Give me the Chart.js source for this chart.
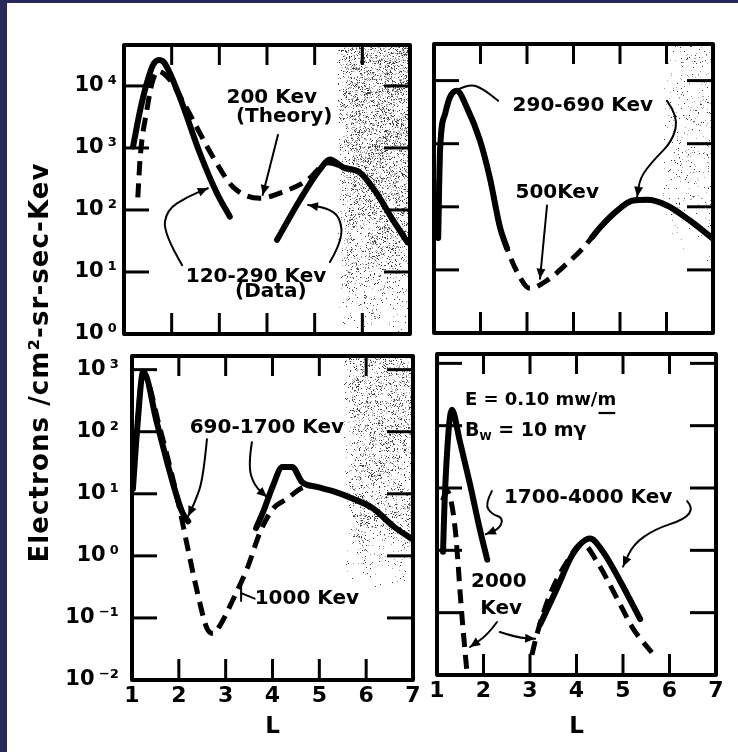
<!DOCTYPE html>
<html>
<head>
<meta charset="utf-8">
<title>Electron flux versus L</title>
<script src="https://cdn.jsdelivr.net/npm/chart.js@4.4.1/dist/chart.umd.min.js"></script>
<style>
  html, body { margin:0; padding:0; background:#fff; }
  #wrap { position:relative; width:738px; height:752px; background:#fff; overflow:hidden; }
  .band { position:absolute; background:#29295b; }
  canvas { position:absolute; left:0; top:0; }
</style>
</head>
<body>
<div id="wrap">
  <canvas id="pA" width="738" height="752"></canvas>
  <canvas id="pB" width="738" height="752"></canvas>
  <canvas id="pC" width="738" height="752"></canvas>
  <canvas id="pD" width="738" height="752"></canvas>
  <div class="band" style="left:0;top:0;width:7px;height:752px"></div>
  <div class="band" style="left:0;top:0;width:738px;height:3px"></div>
</div>
<script>
// ---------------- data ----------------
const xTicks = [1, 2, 3, 4, 5, 6, 7];
const xTickLabels = ['1', '2', '3', '4', '5', '6', '7'];
const yTicksTop = [1, 10, 100, 1000, 10000];
const yTickLabelsTop = ['10\u2009⁰', '10\u2009¹', '10\u2009²', '10\u2009³', '10\u2009⁴'];
const yTicksBottom = [0.01, 0.1, 1, 10, 100, 1000];
const yTickLabelsBottom = ['10\u2009⁻²', '10\u2009⁻¹', '10\u2009⁰', '10\u2009¹', '10\u2009²', '10\u2009³'];
const yTitle = 'Electrons /cm²-sr-sec-Kev';
const xTitle = 'L';

// Panel A: 120-290 Kev (data, solid) and 200 Kev (theory, dashed)
const aDataL    = [1.19, 1.34, 1.48, 1.61, 1.73, 1.84, 2.17, 2.59, 2.95, 3.22, 3.70, 4.21, 4.69, 5.11, 5.32, 5.59, 5.95, 6.30, 6.64, 6.95];
const aDataFlux = [1050, 4100, 11200, 21900, 26300, 24000, 6600, 830, 186, 78, null, 33, 145, 450, 650, 490, 400, 186, 69, 30];
const aTheoryL    = [1.29, 1.34, 1.48, 1.59, 1.71, 1.96, 2.22, 2.87, 3.29, 3.85, 4.33, 4.84, 5.28, 5.60];
const aTheoryFlux = [160, 710, 4100, 11200, 17400, 12600, 5900, 710, 234, 155, 195, 300, 575, 490];

// Panel B: 290-690 Kev (data) and 500 Kev (theory)
const bDataL    = [1.09, 1.13, 1.24, 1.34, 1.49, 1.71, 1.99, 2.20, 2.42, 2.57, 3.50, 4.40, 4.57, 4.94, 5.28, 5.58, 6.01, 6.51, 6.98];
const bDataFlux = [32, 780, 3000, 5400, 6900, 3700, 1120, 290, 47, 22, null, 33, 47, 87, 126, 129, 105, 60, 32];
const bTheoryL    = [1.09, 1.13, 1.24, 1.34, 1.49, 1.71, 1.99, 2.20, 2.42, 2.57, 2.78, 3.06, 3.43, 3.86, 4.20, 4.40, 4.57, 4.94, 5.28, 5.58, 6.01, 6.51, 6.98];
const bTheoryFlux = [32, 780, 3000, 5400, 6900, 3700, 1120, 290, 47, 22, 9.5, 5.1, 6.8, 12.6, 22, 33, 47, 87, 126, 129, 105, 60, 32];

// Panel C: 690-1700 Kev (data) and 1000 Kev (theory)
const cDataL    = [1.02, 1.11, 1.24, 1.53, 1.81, 2.07, 2.20, 3.00, 3.65, 3.80, 4.01, 4.21, 4.42, 4.63, 4.95, 5.29, 5.72, 6.15, 6.58, 6.96];
const cDataFlux = [12, 110, 930, 141, 22, 5.1, 3.6, null, 2.8, 5.1, 13.5, 27, 27, 15.5, 12.9, 11, 8.3, 5.8, 3.0, 1.9];
const cTheoryL    = [1.04, 1.24, 1.60, 1.96, 2.18, 2.39, 2.60, 2.73, 2.88, 3.16, 3.46, 3.74, 4.01, 4.31, 4.59, 4.80];
const cTheoryFlux = [25, 830, 110, 9.1, 1.45, 0.27, 0.068, 0.056, 0.076, 0.2, 0.63, 2.45, 5.75, 8.3, 12, 14];

// Panel D: 1700-4000 Kev (data) and 2000 Kev (theory)
const dDataL    = [1.13, 1.17, 1.32, 1.49, 1.71, 1.92, 2.08, 2.60, 3.22, 3.58, 3.92, 4.29, 4.57, 4.94, 5.37];
const dDataFlux = [0.95, 8, 180, 57, 11.5, 2.2, 0.71, null, 0.065, 0.245, 0.87, 1.55, 0.95, 0.32, 0.079];
const dTheoryL    = [1.12, 1.22, 1.30, 1.39, 1.45, 1.50, 1.57, 1.65, 2.30, 3.04, 3.15, 3.43, 3.80, 4.12, 4.44, 4.87, 5.22, 5.62];
const dTheoryFlux = [6.3, 8.9, 6.3, 2.24, 0.66, 0.195, 0.045, 0.01, null, 0.021, 0.045, 0.195, 0.66, 1.29, 0.66, 0.17, 0.055, 0.023];

// ---------------- styling / layout ----------------
const FONT = '"DejaVu Sans", "Liberation Sans", sans-serif';
const W = 738, H = 752;

const panels = {
  pA: {
    box: {l:124, t:45, r:410, b:334}, yMin: 1, yMax: Math.pow(10, 4.66),
    yTicks: yTicksTop, yLabels: yTickLabelsTop, showX: false, showY: true, yPad: 7,
    data: [aDataL, aDataFlux], theory: [aTheoryL, aTheoryFlux],
    speckle: {L0:5.45, L1:7.05, lgTop:4.7, lgBot:-0.05, density:0.30, fade:0.25, seed:11},
    texts: [
      {t:'200 Kev', L:4.10, lg:3.81},
      {t:'(Theory)', L:4.36, lg:3.50},
      {t:'120-290 Kev', L:3.77, lg:0.92},
      {t:'(Data)', L:4.08, lg:0.68}
    ],
    leaders: [
      {pts:[[4.23,3.21],[3.91,2.24]], arrow:true},
      {pts:[[2.22,1.11],[1.82,1.63],[1.90,2.00],[2.32,2.21],[2.76,2.35]], arrow:true},
      {pts:[[5.32,1.16],[5.59,1.52],[5.53,1.89],[5.26,2.03],[4.86,2.08]], arrow:true}
    ],
    yTitle: true
  },
  pB: {
    box: {l:434, t:44, r:713, b:333}, yMin: 1, yMax: Math.pow(10, 4.58),
    yTicks: yTicksTop, yLabels: yTickLabelsTop, showX: false, showY: false, yPad: 7,
    data: [bDataL, bDataFlux], theory: [bTheoryL, bTheoryFlux],
    speckle: {L0:5.9, L1:7.05, lgTop:4.6, lgBot:1.0, density:0.06, fade:0.3, seed:23},
    texts: [
      {t:'290-690 Kev', L:4.20, lg:3.60},
      {t:'500Kev', L:3.65, lg:2.22}
    ],
    leaders: [
      {pts:[[1.52,3.86],[1.77,3.95],[2.05,3.87],[2.38,3.68]], arrow:false},
      {pts:[[6.01,3.68],[6.25,3.44],[6.14,3.05],[5.71,2.73],[5.43,2.46],[5.37,2.16]], arrow:true},
      {pts:[[3.43,2.02],[3.28,0.86]], arrow:true}
    ]
  },
  pC: {
    box: {l:132, t:356, r:413, b:680}, yMin: 0.01, yMax: Math.pow(10, 3.22),
    yTicks: yTicksBottom, yLabels: yTickLabelsBottom, showX: true, showY: true, yPad: 13,
    data: [cDataL, cDataFlux], theory: [cTheoryL, cTheoryFlux],
    speckle: {L0:5.5, L1:7.05, lgTop:3.3, lgBot:-0.5, density:0.22, fade:0.3, seed:37},
    texts: [
      {t:'690-1700 Kev', L:3.88, lg:2.07},
      {t:'1000 Kev', L:3.62, lg:-0.69, align:'left'}
    ],
    leaders: [
      {pts:[[2.60,1.88],[2.52,1.24],[2.35,0.88],[2.20,0.64]], arrow:true},
      {pts:[[3.56,1.83],[3.48,1.45],[3.61,1.13],[3.88,0.95]], arrow:true},
      {pts:[[3.62,-0.69],[3.33,-0.60]], arrow:false, bar:true}
    ]
  },
  pD: {
    box: {l:437, t:354, r:716, b:675}, yMin: 0.01, yMax: Math.pow(10, 3.15),
    yTicks: yTicksBottom, yLabels: yTickLabelsBottom, showX: true, showY: false, yPad: 7,
    data: [dDataL, dDataFlux], theory: [dTheoryL, dTheoryFlux],
    speckle: null,
    texts: [
      {segs:[{t:'E = 0.10 mw/'},{t:'m', underline:true}], L:1.60, lg:2.40, align:'left', size:18},
      {segs:[{t:'B'},{t:'W', size:11, dy:6},{t:' = 10 mγ'}], L:1.60, lg:1.92, align:'left', size:19},
      {t:'1700-4000 Kev', L:4.25, lg:0.84},
      {t:'2000', L:2.33, lg:-0.50},
      {t:'Kev', L:2.38, lg:-0.94}
    ],
    leaders: [
      {pts:[[2.18,0.95],[2.03,0.74],[2.18,0.58],[2.42,0.52],[2.35,0.35],[2.05,0.26]], arrow:true},
      {pts:[[6.38,0.79],[6.51,0.68],[6.33,0.50],[5.69,0.34],[5.22,0.10],[5.00,-0.26]], arrow:true},
      {pts:[[2.29,-1.15],[2.10,-1.35],[1.71,-1.55]], arrow:true},
      {pts:[[2.35,-1.31],[2.72,-1.40],[3.11,-1.42]], arrow:true}
    ]
  }
};

// ---------------- helpers ----------------
function hash(x, y, seed) {
  let h = Math.imul(x, 374761393) ^ Math.imul(y, 668265263) ^ Math.imul(seed, 2246822519);
  h = Math.imul(h ^ (h >>> 13), 1274126177);
  h = h ^ (h >>> 16);
  return (h >>> 0) / 4294967296;
}
function px(chart, L, lg) {
  return [chart.scales.x.getPixelForValue(L), chart.scales.y.getPixelForValue(Math.pow(10, lg))];
}
function drawSpeckle(chart, sp) {
  const {ctx, chartArea:a} = chart;
  const [x0, y0] = px(chart, sp.L0, sp.lgTop);
  const [x1, y1] = px(chart, sp.L1, sp.lgBot);
  const fadePx = chart.scales.x.getPixelForValue(1 + sp.fade) - chart.scales.x.getPixelForValue(1);
  ctx.save();
  ctx.beginPath(); ctx.rect(a.left, a.top, a.width, a.height); ctx.clip();
  for (let y = Math.floor(y0); y < y1; y += 1) {
    const ty = (y - y0) / (y1 - y0);
    const fy = Math.min(1, (1 - ty) * 3) * (1 - 0.45 * ty);
    for (let x = Math.floor(x0); x < x1; x += 1) {
      const fx = Math.min(1, (x - x0) / fadePx);
      const blob = 0.45 + 1.1 * hash(x >> 3, y >> 3, sp.seed + 5);
      const r = hash(x, y, sp.seed);
      const p = sp.density * fx * fy * blob;
      if (r < p) {
        ctx.fillStyle = r < p * 0.45 ? 'rgba(30,30,30,0.85)' : 'rgba(90,90,90,0.55)';
        ctx.fillRect(x, y, 1, 1);
      }
    }
  }
  ctx.restore();
}
function smoothPath(ctx, p) {
  ctx.beginPath();
  ctx.moveTo(p[0][0], p[0][1]);
  if (p.length === 2) { ctx.lineTo(p[1][0], p[1][1]); return; }
  for (let i = 1; i < p.length - 1; i++) {
    const mx = (p[i][0] + p[i+1][0]) / 2, my = (p[i][1] + p[i+1][1]) / 2;
    ctx.quadraticCurveTo(p[i][0], p[i][1], mx, my);
  }
  const n = p.length - 1;
  ctx.lineTo(p[n][0], p[n][1]);
}
function arrowHead(ctx, from, to, len, wid) {
  const ang = Math.atan2(to[1] - from[1], to[0] - from[0]);
  ctx.beginPath();
  ctx.moveTo(to[0], to[1]);
  ctx.lineTo(to[0] - len * Math.cos(ang) + wid * Math.sin(ang), to[1] - len * Math.sin(ang) - wid * Math.cos(ang));
  ctx.lineTo(to[0] - len * Math.cos(ang) - wid * Math.sin(ang), to[1] - len * Math.sin(ang) + wid * Math.cos(ang));
  ctx.closePath();
  ctx.fill();
}
function drawRich(ctx, x, y, item) {
  const base = item.size || 20;
  const segs = item.segs || [{t:item.t}];
  let total = 0;
  const widths = segs.map(s => { ctx.font = `bold ${s.size || base}px ${FONT}`; const w = ctx.measureText(s.t).width; total += w; return w; });
  let cx = item.align === 'left' ? x : x - total / 2;
  ctx.textAlign = 'left'; ctx.textBaseline = 'middle';
  segs.forEach((s, i) => {
    ctx.font = `bold ${s.size || base}px ${FONT}`;
    ctx.fillText(s.t, cx, y + (s.dy || 0));
    if (s.underline) ctx.fillRect(cx + 1, y + base * 0.62, widths[i] - 2, 2.2);
    cx += widths[i];
  });
}

const panelPlugin = {
  id: 'panelDeco',
  beforeDatasetsDraw(chart) {
    const cfg = panels[chart.canvas.id];
    const {ctx, chartArea:a} = chart;
    if (cfg.speckle) drawSpeckle(chart, cfg.speckle);
    ctx.save();
    ctx.strokeStyle = '#000';
    ctx.lineWidth = 3;
    ctx.lineCap = 'butt';
    xTicks.forEach(v => {
      if (v <= 1 || v >= 7) return;
      const x = chart.scales.x.getPixelForValue(v);
      ctx.beginPath(); ctx.moveTo(x, a.top); ctx.lineTo(x, a.top + 20); ctx.stroke();
      ctx.beginPath(); ctx.moveTo(x, a.bottom); ctx.lineTo(x, a.bottom - 21); ctx.stroke();
    });
    cfg.yTicks.forEach(v => {
      const y = chart.scales.y.getPixelForValue(v);
      if (y <= a.top + 2 || y >= a.bottom - 2) return;
      ctx.beginPath(); ctx.moveTo(a.left, y); ctx.lineTo(a.left + 25, y); ctx.stroke();
      ctx.beginPath(); ctx.moveTo(a.right, y); ctx.lineTo(a.right - 26, y); ctx.stroke();
    });
    ctx.lineWidth = 4;
    ctx.lineJoin = 'round';
    ctx.strokeRect(a.left, a.top, a.width, a.height);
    ctx.restore();
  },
  afterDatasetsDraw(chart) {
    const cfg = panels[chart.canvas.id];
    const ctx = chart.ctx;
    ctx.save();
    ctx.fillStyle = '#000';
    ctx.strokeStyle = '#000';
    ctx.lineWidth = 2;
    ctx.lineCap = 'round';
    cfg.leaders.forEach(ld => {
      const p = ld.pts.map(q => px(chart, q[0], q[1]));
      smoothPath(ctx, p);
      ctx.stroke();
      const n = p.length - 1;
      if (ld.arrow) arrowHead(ctx, p[n - 1], p[n], 10, 4.5);
      if (ld.bar) {
        ctx.beginPath(); ctx.moveTo(p[n][0], p[n][1] - 8); ctx.lineTo(p[n][0], p[n][1] + 8); ctx.stroke();
      }
    });
    cfg.texts.forEach(t => {
      const [x, y] = px(chart, t.L, t.lg);
      drawRich(ctx, x, y, t);
    });
    ctx.restore();
  },
  afterDraw(chart) {
    const cfg = panels[chart.canvas.id];
    if (!cfg.yTitle) return;
    const ctx = chart.ctx;
    const cy = (panels.pA.box.t + panels.pC.box.b) / 2;
    ctx.save();
    ctx.translate(41, cy);
    ctx.rotate(-Math.PI / 2);
    ctx.font = `bold 26px ${FONT}`;
    const w = ctx.measureText(yTitle).width;
    const ls = Math.max(0, (400 - w) / yTitle.length);
    ctx.letterSpacing = ls.toFixed(2) + 'px';
    ctx.fillStyle = '#000';
    ctx.textAlign = 'center';
    ctx.textBaseline = 'middle';
    ctx.fillText(yTitle, 0, 0);
    ctx.restore();
  }
};

function toPoints(Ls, vs) {
  return Ls.map((L, i) => ({x: L, y: vs[i]}));
}

function makePanel(id) {
  const cfg = panels[id];
  const b = cfg.box;
  const xH = cfg.showX ? (H - b.b) : 0;
  const yW = cfg.showY ? b.l : 0;
  const tickFont = {family: FONT, size: 21, weight: 'bold'};
  new Chart(document.getElementById(id), {
    type: 'line',
    data: {
      datasets: [
        { label: 'data', data: toPoints(cfg.data[0], cfg.data[1]), borderColor: '#000', borderWidth: 6,
          pointRadius: 0, cubicInterpolationMode: 'monotone', spanGaps: false, fill: false,
          borderCapStyle: 'round', borderJoinStyle: 'round' },
        { label: 'theory', data: toPoints(cfg.theory[0], cfg.theory[1]), borderColor: '#000', borderWidth: 5,
          borderDash: [14, 8], pointRadius: 0, cubicInterpolationMode: 'monotone', spanGaps: false, fill: false,
          borderCapStyle: 'butt' }
      ]
    },
    options: {
      responsive: false, animation: false, events: [],
      layout: { padding: { left: b.l - yW, top: b.t, right: W - b.r, bottom: H - b.b - xH } },
      plugins: { legend: {display: false}, tooltip: {enabled: false}, title: {display: false} },
      scales: {
        x: {
          type: 'linear', min: 1, max: 7, display: cfg.showX,
          afterBuildTicks: s => { s.ticks = xTicks.map(v => ({value: v})); },
          afterFit: s => { s.height = xH; },
          ticks: { autoSkip: false, maxRotation: 0, padding: 3, color: '#000',
                   font: {family: FONT, size: 22, weight: 'bold'},
                   callback: (v, i) => xTickLabels[i] },
          grid: { display: false, drawTicks: false }, border: { display: false },
          title: { display: cfg.showX, text: xTitle, color: '#000',
                   font: {family: FONT, size: 23, weight: 'bold'}, padding: {top: 0, bottom: 11} }
        },
        y: {
          type: 'logarithmic', min: cfg.yMin, max: cfg.yMax, display: cfg.showY,
          afterBuildTicks: s => { s.ticks = cfg.yTicks.map(v => ({value: v})); },
          afterFit: s => { s.width = yW; },
          ticks: { autoSkip: false, padding: cfg.yPad, color: '#000', font: tickFont,
                   callback: (v, i) => cfg.yLabels[i] },
          grid: { display: false, drawTicks: false }, border: { display: false }
        }
      }
    },
    plugins: [panelPlugin]
  });
}

['pA', 'pB', 'pC', 'pD'].forEach(makePanel);
</script>
</body>
</html>
